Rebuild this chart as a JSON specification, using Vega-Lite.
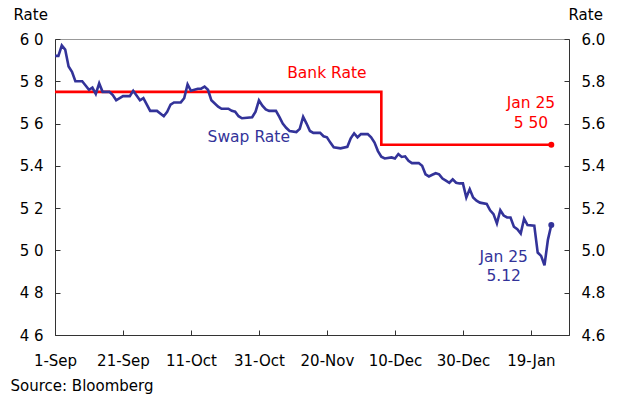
{
  "$schema": "https://vega.github.io/schema/vega-lite/v6.json",
  "width": 514,
  "height": 296,
  "autosize": {"type": "none"},
  "padding": {"left": 55, "top": 39, "right": 49, "bottom": 60},
  "background": "white",
  "config": {
    "view": {"stroke": "#999999", "strokeWidth": 1},
    "font": "DejaVu Sans",
    "axis": {
      "labelFont": "DejaVu Sans", "labelFontSize": 15, "labelColor": "#000000",
      "titleFont": "DejaVu Sans", "titleFontSize": 15, "titleFontWeight": "normal", "titleColor": "#000000",
      "domainColor": "#333333", "tickColor": "#333333", "grid": false,
      "tickSize": -5, "labelPadding": 17, "labelFlush": false, "labelOverlap": false, "labelBound": false
    }
  },
  "datasets": {
    "bank": [
      {"date": "2007-09-01", "rate": 5.75},
      {"date": "2007-12-06", "rate": 5.50},
      {"date": "2008-01-25", "rate": 5.50}
    ],
    "swap": [
      {"date": "2007-09-01", "rate": 5.92},
      {"date": "2007-09-02", "rate": 5.92},
      {"date": "2007-09-03", "rate": 5.97},
      {"date": "2007-09-04", "rate": 5.95},
      {"date": "2007-09-05", "rate": 5.87},
      {"date": "2007-09-06", "rate": 5.845},
      {"date": "2007-09-07", "rate": 5.80},
      {"date": "2007-09-09", "rate": 5.80},
      {"date": "2007-09-10", "rate": 5.78},
      {"date": "2007-09-11", "rate": 5.76},
      {"date": "2007-09-12", "rate": 5.77},
      {"date": "2007-09-13", "rate": 5.74},
      {"date": "2007-09-14", "rate": 5.79},
      {"date": "2007-09-15", "rate": 5.75},
      {"date": "2007-09-17", "rate": 5.75},
      {"date": "2007-09-18", "rate": 5.735},
      {"date": "2007-09-19", "rate": 5.71},
      {"date": "2007-09-21", "rate": 5.73},
      {"date": "2007-09-23", "rate": 5.73},
      {"date": "2007-09-24", "rate": 5.755},
      {"date": "2007-09-26", "rate": 5.71},
      {"date": "2007-09-27", "rate": 5.72},
      {"date": "2007-09-29", "rate": 5.66},
      {"date": "2007-10-01", "rate": 5.66},
      {"date": "2007-10-03", "rate": 5.635},
      {"date": "2007-10-04", "rate": 5.656},
      {"date": "2007-10-05", "rate": 5.69},
      {"date": "2007-10-06", "rate": 5.70},
      {"date": "2007-10-08", "rate": 5.70},
      {"date": "2007-10-09", "rate": 5.72},
      {"date": "2007-10-10", "rate": 5.785},
      {"date": "2007-10-11", "rate": 5.755},
      {"date": "2007-10-13", "rate": 5.765},
      {"date": "2007-10-14", "rate": 5.765},
      {"date": "2007-10-15", "rate": 5.775},
      {"date": "2007-10-16", "rate": 5.76},
      {"date": "2007-10-17", "rate": 5.71},
      {"date": "2007-10-19", "rate": 5.68},
      {"date": "2007-10-20", "rate": 5.67},
      {"date": "2007-10-22", "rate": 5.67},
      {"date": "2007-10-23", "rate": 5.66},
      {"date": "2007-10-24", "rate": 5.656},
      {"date": "2007-10-25", "rate": 5.635},
      {"date": "2007-10-26", "rate": 5.625},
      {"date": "2007-10-29", "rate": 5.63},
      {"date": "2007-10-30", "rate": 5.656},
      {"date": "2007-10-31", "rate": 5.71},
      {"date": "2007-11-01", "rate": 5.685},
      {"date": "2007-11-02", "rate": 5.667},
      {"date": "2007-11-03", "rate": 5.66},
      {"date": "2007-11-05", "rate": 5.66},
      {"date": "2007-11-06", "rate": 5.632},
      {"date": "2007-11-07", "rate": 5.60},
      {"date": "2007-11-08", "rate": 5.58},
      {"date": "2007-11-09", "rate": 5.565},
      {"date": "2007-11-11", "rate": 5.56},
      {"date": "2007-11-12", "rate": 5.575},
      {"date": "2007-11-13", "rate": 5.632},
      {"date": "2007-11-14", "rate": 5.60},
      {"date": "2007-11-15", "rate": 5.565},
      {"date": "2007-11-16", "rate": 5.556},
      {"date": "2007-11-18", "rate": 5.556},
      {"date": "2007-11-19", "rate": 5.54},
      {"date": "2007-11-20", "rate": 5.535},
      {"date": "2007-11-21", "rate": 5.51},
      {"date": "2007-11-22", "rate": 5.488},
      {"date": "2007-11-24", "rate": 5.483},
      {"date": "2007-11-26", "rate": 5.49},
      {"date": "2007-11-27", "rate": 5.53},
      {"date": "2007-11-28", "rate": 5.554},
      {"date": "2007-11-29", "rate": 5.535},
      {"date": "2007-11-30", "rate": 5.55},
      {"date": "2007-12-02", "rate": 5.55},
      {"date": "2007-12-03", "rate": 5.535},
      {"date": "2007-12-04", "rate": 5.51},
      {"date": "2007-12-05", "rate": 5.47},
      {"date": "2007-12-06", "rate": 5.443},
      {"date": "2007-12-07", "rate": 5.435},
      {"date": "2007-12-09", "rate": 5.44},
      {"date": "2007-12-10", "rate": 5.435},
      {"date": "2007-12-11", "rate": 5.456},
      {"date": "2007-12-12", "rate": 5.442},
      {"date": "2007-12-13", "rate": 5.445},
      {"date": "2007-12-14", "rate": 5.424},
      {"date": "2007-12-15", "rate": 5.413},
      {"date": "2007-12-17", "rate": 5.413},
      {"date": "2007-12-18", "rate": 5.40},
      {"date": "2007-12-19", "rate": 5.36},
      {"date": "2007-12-20", "rate": 5.35},
      {"date": "2007-12-21", "rate": 5.358},
      {"date": "2007-12-22", "rate": 5.365},
      {"date": "2007-12-23", "rate": 5.36},
      {"date": "2007-12-24", "rate": 5.34},
      {"date": "2007-12-25", "rate": 5.33},
      {"date": "2007-12-26", "rate": 5.32},
      {"date": "2007-12-27", "rate": 5.336},
      {"date": "2007-12-28", "rate": 5.32},
      {"date": "2007-12-29", "rate": 5.317},
      {"date": "2007-12-30", "rate": 5.317},
      {"date": "2007-12-31", "rate": 5.25},
      {"date": "2008-01-01", "rate": 5.29},
      {"date": "2008-01-02", "rate": 5.25},
      {"date": "2008-01-03", "rate": 5.235},
      {"date": "2008-01-04", "rate": 5.226},
      {"date": "2008-01-06", "rate": 5.22},
      {"date": "2008-01-07", "rate": 5.19},
      {"date": "2008-01-08", "rate": 5.172},
      {"date": "2008-01-09", "rate": 5.128},
      {"date": "2008-01-10", "rate": 5.19},
      {"date": "2008-01-11", "rate": 5.165},
      {"date": "2008-01-12", "rate": 5.156},
      {"date": "2008-01-13", "rate": 5.156},
      {"date": "2008-01-14", "rate": 5.112},
      {"date": "2008-01-15", "rate": 5.10},
      {"date": "2008-01-16", "rate": 5.08},
      {"date": "2008-01-17", "rate": 5.15},
      {"date": "2008-01-18", "rate": 5.12},
      {"date": "2008-01-20", "rate": 5.117},
      {"date": "2008-01-21", "rate": 4.99},
      {"date": "2008-01-22", "rate": 4.974},
      {"date": "2008-01-23", "rate": 4.93},
      {"date": "2008-01-24", "rate": 5.05},
      {"date": "2008-01-25", "rate": 5.12}
    ],
    "ends": [
      {"date": "2008-01-25", "rate": 5.50, "series": "Bank"},
      {"date": "2008-01-25", "rate": 5.12, "series": "Swap"}
    ],
    "notes": [
      {"date": "2007-11-20", "rate": 5.814, "label": "Bank Rate", "series": "Bank"},
      {"date": "2007-10-28", "rate": 5.514, "label": "Swap Rate", "series": "Swap"},
      {"date": "2008-01-19", "rate": 5.675, "label": "Jan 25", "series": "Bank"},
      {"date": "2008-01-19", "rate": 5.578, "label": "5 50", "series": "Bank"},
      {"date": "2008-01-11", "rate": 4.947, "label": "Jan 25", "series": "Swap"},
      {"date": "2008-01-11", "rate": 4.857, "label": "5.12", "series": "Swap"}
    ]
  },
  "resolve": {"axis": {"y": "independent"}},
  "layer": [
    {
      "data": {"name": "bank"},
      "mark": {"type": "line", "interpolate": "step-after", "color": "#FF0000", "strokeWidth": 2.6},
      "encoding": {
        "x": {
          "field": "date", "type": "temporal",
          "scale": {"type": "utc", "domain": [{"year": 2007, "month": 9, "date": 1, "utc": true}, {"year": 2008, "month": 1, "date": 30, "hours": 5, "utc": true}]},
          "axis": {
            "values": [
              {"year": 2007, "month": 9, "date": 1, "utc": true},
              {"year": 2007, "month": 9, "date": 21, "utc": true},
              {"year": 2007, "month": 10, "date": 11, "utc": true},
              {"year": 2007, "month": 10, "date": 31, "utc": true},
              {"year": 2007, "month": 11, "date": 20, "utc": true},
              {"year": 2007, "month": 12, "date": 10, "utc": true},
              {"year": 2007, "month": 12, "date": 30, "utc": true},
              {"year": 2008, "month": 1, "date": 19, "utc": true}
            ],
            "format": "%-d-%b",
            "labelPadding": 23,
            "title": "Source: Bloomberg",
            "titleX": -45, "titleY": 55, "titleAlign": "left", "titleBaseline": "alphabetic", "titleAngle": 0
          }
        },
        "y": {
          "field": "rate", "type": "quantitative",
          "scale": {"domain": [4.6, 6.0], "nice": false, "zero": false},
          "axis": {
            "orient": "left",
            "values": [4.6, 4.8, 5.0, 5.2, 5.4, 5.6, 5.8, 6.0],
            "labelExpr": "abs(datum.value - 5.4) < 0.01 ? '5.4' : replace(format(datum.value, '.1f'), '.', ' ')",
            "title": "Rate",
            "titleAngle": 0, "titleX": -42, "titleY": -20, "titleAlign": "left", "titleBaseline": "alphabetic"
          }
        }
      }
    },
    {
      "data": {"name": "swap"},
      "mark": {"type": "line", "color": "#333399", "strokeWidth": 2.6},
      "encoding": {
        "x": {"field": "date", "type": "temporal"},
        "y": {
          "field": "rate", "type": "quantitative",
          "axis": {
            "orient": "right",
            "values": [4.6, 4.8, 5.0, 5.2, 5.4, 5.6, 5.8, 6.0],
            "format": ".1f",
            "title": "Rate",
            "titleAngle": 0, "titleX": -1, "titleY": -20, "titleAlign": "left", "titleBaseline": "alphabetic"
          }
        }
      }
    },
    {
      "data": {"name": "ends"},
      "mark": {"type": "circle", "size": 36, "opacity": 1},
      "encoding": {
        "x": {"field": "date", "type": "temporal"},
        "y": {"field": "rate", "type": "quantitative", "axis": null},
        "color": {"field": "series", "type": "nominal", "scale": {"domain": ["Bank", "Swap"], "range": ["#FF0000", "#333399"]}, "legend": null}
      }
    },
    {
      "data": {"name": "notes"},
      "mark": {"type": "text", "align": "center", "baseline": "alphabetic", "fontSize": 15.5, "font": "DejaVu Sans"},
      "encoding": {
        "x": {"field": "date", "type": "temporal"},
        "y": {"field": "rate", "type": "quantitative", "axis": null},
        "text": {"field": "label"},
        "color": {"field": "series", "type": "nominal", "scale": {"domain": ["Bank", "Swap"], "range": ["#FF0000", "#333399"]}, "legend": null}
      }
    }
  ]
}
